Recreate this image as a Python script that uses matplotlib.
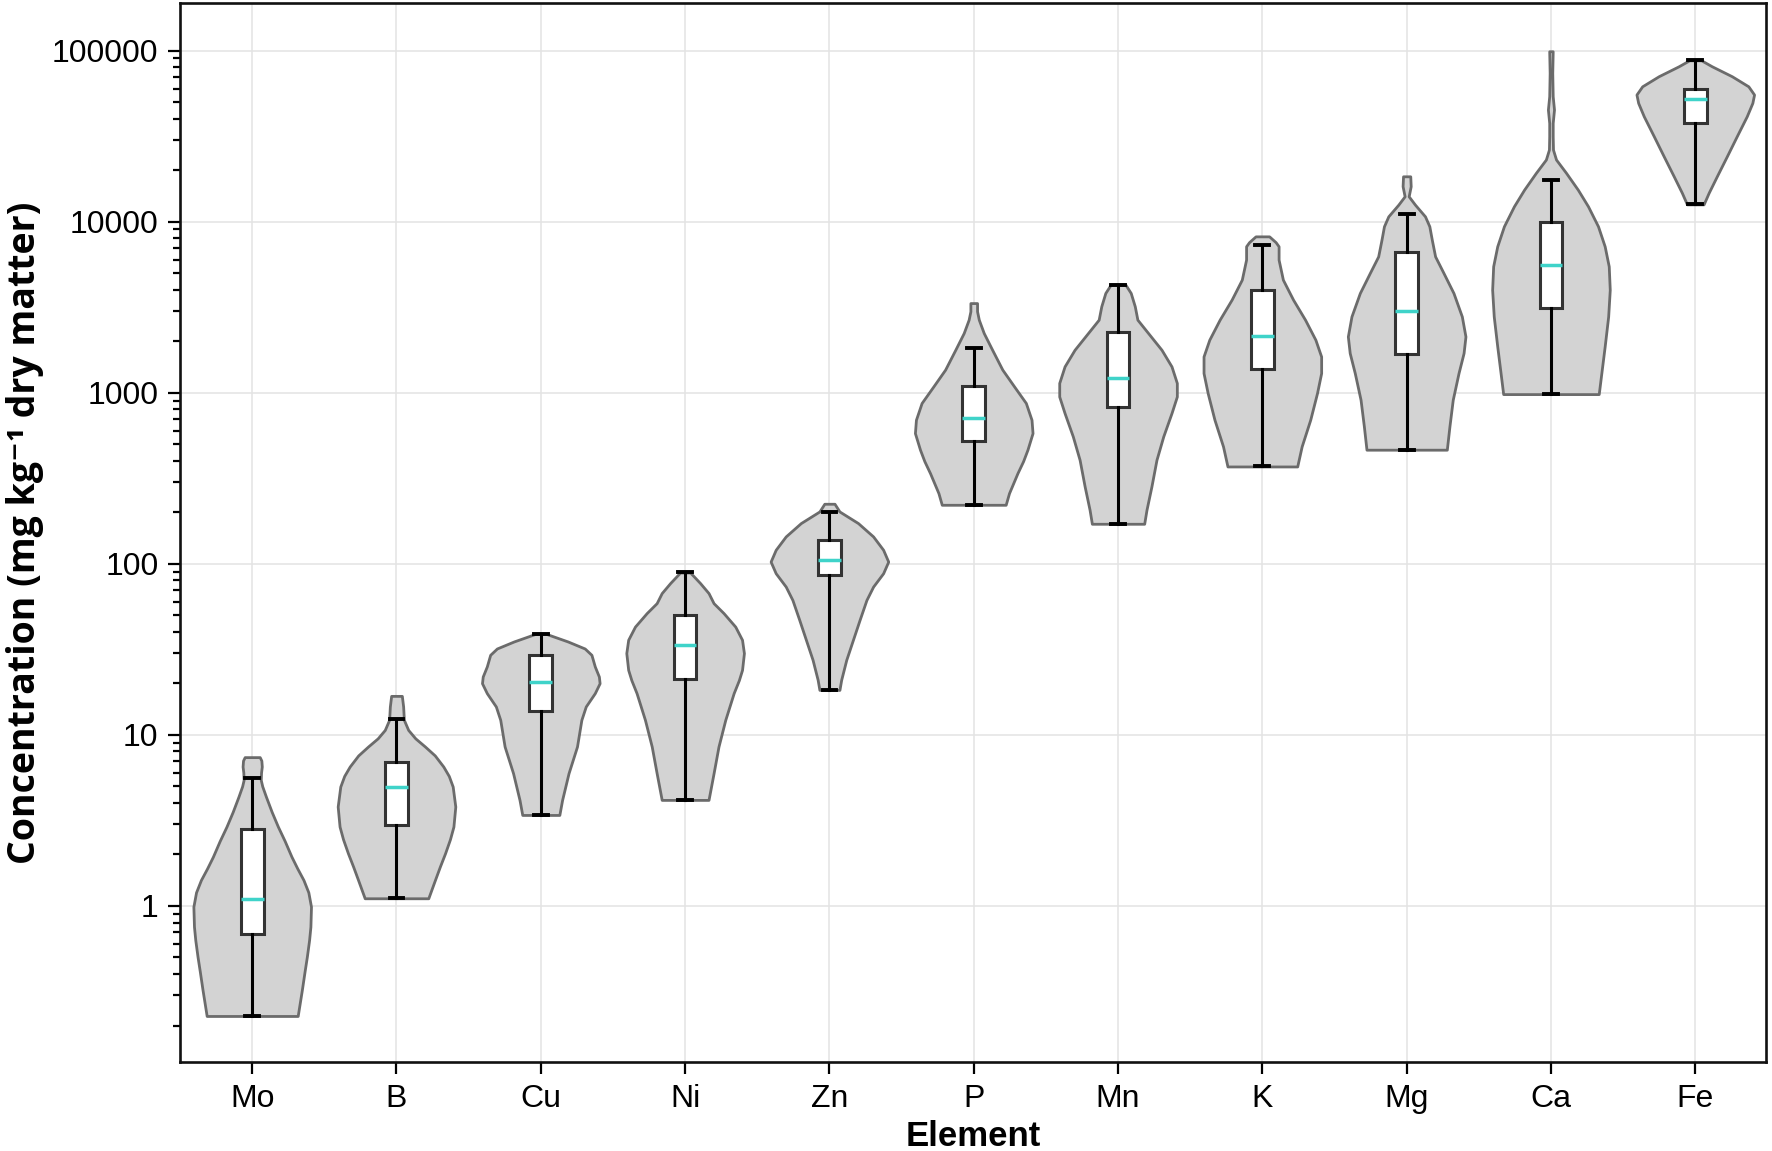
import numpy as np
import matplotlib
matplotlib.use('Agg')
import matplotlib.pyplot as plt
from matplotlib.ticker import FixedLocator, FuncFormatter, LogLocator, NullFormatter

plt.rcParams['font.family'] = ['Liberation Sans', 'DejaVu Sans']

# Elements, ordered as on the x axis
elements = ['Mo', 'B', 'Cu', 'Ni', 'Zn', 'P', 'Mn', 'K', 'Mg', 'Ca', 'Fe']

# Box plot summary, mg/kg dry matter
q1 = [0.69, 2.98, 13.7, 21.2, 86, 519, 824, 1375, 1690, 3127, 37800]
median = [1.10, 4.97, 20.4, 33.5, 104.6, 711, 1213, 2153, 3005, 5605, 52100]
q3 = [2.82, 6.9, 29.4, 49.9, 138, 1089, 2253, 3966, 6680, 9910, 59700]
whisker_lo = [0.227, 1.11, 3.4, 4.17, 18.3, 221, 171, 371, 464, 983, 12600]
whisker_hi = [5.58, 12.4, 39, 89, 202, 1825, 4285, 7266, 11090, 17450, 87800]

# Violin outlines: log10 concentration levels (bottom -> top)
# and the relative half width of the density at each level
violin_log = [
    [-0.643, -0.491, -0.380, -0.296, -0.200, -0.121, -0.004, 0.080, 0.152, 0.220, 0.288, 0.380,
     0.464, 0.550, 0.639, 0.700, 0.737, 0.780, 0.815, 0.850, 0.870],
    [0.045, 0.152, 0.230, 0.308, 0.390, 0.464, 0.581, 0.698, 0.760, 0.815, 0.880, 0.932, 0.980,
     1.029, 1.088, 1.166, 1.228],
    [0.532, 0.620, 0.776, 0.932, 1.088, 1.166, 1.244, 1.302, 1.341, 1.400, 1.468, 1.505, 1.546, 1.591],
    [0.620, 0.776, 0.932, 1.088, 1.244, 1.320, 1.380, 1.478, 1.556, 1.633, 1.712, 1.770, 1.829,
     1.887, 1.949],
    [1.263, 1.322, 1.439, 1.556, 1.673, 1.789, 1.867, 1.945, 2.013, 2.082, 2.160, 2.238, 2.306, 2.351],
    [2.345, 2.413, 2.530, 2.600, 2.667, 2.764, 2.842, 2.940, 3.037, 3.135, 3.251, 3.349, 3.427,
     3.476, 3.524],
    [2.234, 2.316, 2.452, 2.608, 2.745, 2.881, 2.978, 3.057, 3.154, 3.251, 3.349, 3.427, 3.505, 3.583, 3.632],
    [2.569, 2.686, 2.842, 2.998, 3.115, 3.212, 3.310, 3.427, 3.544, 3.661, 3.778, 3.856, 3.880, 3.914],
    [2.667, 2.803, 2.959, 3.115, 3.232, 3.329, 3.446, 3.583, 3.700, 3.797, 3.895, 3.973, 4.031, 4.099,
     4.148, 4.207, 4.265],
    [2.992, 3.115, 3.271, 3.446, 3.602, 3.739, 3.856, 3.973, 4.090, 4.187, 4.285, 4.363, 4.421, 4.499,
     4.577, 4.655, 4.733, 4.869, 4.996],
    [4.101, 4.168, 4.265, 4.382, 4.499, 4.616, 4.694, 4.743, 4.791, 4.850, 4.908, 4.943],
]
violin_width = [
    [0.308, 0.336, 0.355, 0.370, 0.385, 0.394, 0.398, 0.380, 0.347, 0.305, 0.266, 0.220,
     0.174, 0.132, 0.093, 0.068, 0.058, 0.060, 0.065, 0.062, 0.051],
    [0.220, 0.266, 0.300, 0.336, 0.370, 0.394, 0.407, 0.389, 0.362, 0.324, 0.265, 0.197, 0.130,
     0.081, 0.051, 0.046, 0.037],
    [0.127, 0.146, 0.190, 0.248, 0.278, 0.308, 0.370, 0.403, 0.398, 0.370, 0.347, 0.301, 0.185, 0.035],
    [0.162, 0.197, 0.231, 0.278, 0.336, 0.372, 0.394, 0.407, 0.394, 0.347, 0.266, 0.197, 0.162,
     0.104, 0.035],
    [0.069, 0.081, 0.116, 0.162, 0.208, 0.255, 0.301, 0.370, 0.405, 0.370, 0.301, 0.197, 0.069, 0.035],
    [0.220, 0.243, 0.301, 0.340, 0.370, 0.405, 0.398, 0.359, 0.278, 0.197, 0.127, 0.069, 0.035,
     0.023, 0.023],
    [0.181, 0.197, 0.231, 0.266, 0.313, 0.370, 0.407, 0.407, 0.370, 0.301, 0.208, 0.134, 0.116, 0.088, 0.051],
    [0.236, 0.266, 0.324, 0.370, 0.398, 0.398, 0.359, 0.289, 0.208, 0.139, 0.110, 0.110, 0.090, 0.046],
    [0.278, 0.296, 0.319, 0.359, 0.394, 0.407, 0.382, 0.324, 0.255, 0.197, 0.174, 0.157, 0.127, 0.058,
     0.014, 0.028, 0.025],
    [0.329, 0.347, 0.370, 0.394, 0.405, 0.398, 0.370, 0.324, 0.255, 0.185, 0.104, 0.035, 0.014, 0.012,
     0.012, 0.021, 0.012, 0.009, 0.012],
    [0.058, 0.093, 0.150, 0.220, 0.289, 0.359, 0.398, 0.410, 0.370, 0.255, 0.116, 0.042],
]

positions = np.arange(len(elements))

fig = plt.figure(figsize=(17.72, 11.51), dpi=100)
ax = fig.add_axes([0.1016, 0.0773, 0.8950, 0.9201])
ax.set_yscale('log')

# violins: matplotlib normalises each outline to the given width
vpstats = []
for i in range(len(elements)):
    coords = 10 ** np.array(violin_log[i])
    vpstats.append({'coords': coords, 'vals': np.array(violin_width[i]),
                    'mean': median[i], 'median': median[i],
                    'min': coords[0], 'max': coords[-1]})
parts = ax.violin(vpstats, positions=positions, widths=0.815,
                  showmeans=False, showextrema=False, showmedians=False)
for body in parts['bodies']:
    body.set_facecolor('#d3d3d3')
    body.set_edgecolor('#6b6b6b')
    body.set_linewidth(2.0)
    body.set_alpha(1)
    body.set_zorder(2)

# box plots on top
bxpstats = []
for i, name in enumerate(elements):
    bxpstats.append({'label': name, 'med': median[i], 'q1': q1[i], 'q3': q3[i],
                     'whislo': whisker_lo[i], 'whishi': whisker_hi[i], 'fliers': []})
ax.bxp(bxpstats, positions=positions, widths=0.157, capwidths=0.095,
       patch_artist=True, showfliers=False, manage_ticks=False,
       boxprops=dict(facecolor='white', edgecolor='#333333', linewidth=2.2),
       whiskerprops=dict(color='black', linewidth=2.2),
       capprops=dict(color='black', linewidth=2.8),
       medianprops=dict(color='#3fd3c9', linewidth=2.5),
       zorder=3)

ax.set_xlim(-0.5, 10.49)
ax.set_ylim(0.1224, 189700)

ax.set_xticks(positions)
ax.set_xticklabels(elements)
ax.yaxis.set_major_locator(FixedLocator([1, 10, 100, 1000, 10000, 100000]))
ax.yaxis.set_major_formatter(FuncFormatter(lambda v, p: '{:g}'.format(v)))
ax.yaxis.set_minor_locator(LogLocator(base=10, subs=np.arange(2, 10), numticks=20))
ax.yaxis.set_minor_formatter(NullFormatter())

ax.tick_params(axis='both', which='major', labelsize=23, length=8.5, width=1.6,
               direction='out', pad=7, color='black')
ax.tick_params(axis='y', which='minor', length=5, width=1.6, direction='out')
ax.tick_params(axis='x', which='minor', bottom=False)

ax.grid(True, which='major', color='#e3e3e3', linewidth=1.1)
ax.set_axisbelow(True)
for s in ax.spines.values():
    s.set_linewidth(1.9)
    s.set_color('#111111')

ax.set_xlabel('Element', fontsize=25, fontweight='bold', labelpad=5)
ax.set_ylabel('Concentration (mg kg⁻¹ dry matter)', fontsize=27, fontweight='bold',
              family=['Open Sans', 'DejaVu Sans'], labelpad=6)

fig.savefig('out.png', dpi=100, facecolor='white')
